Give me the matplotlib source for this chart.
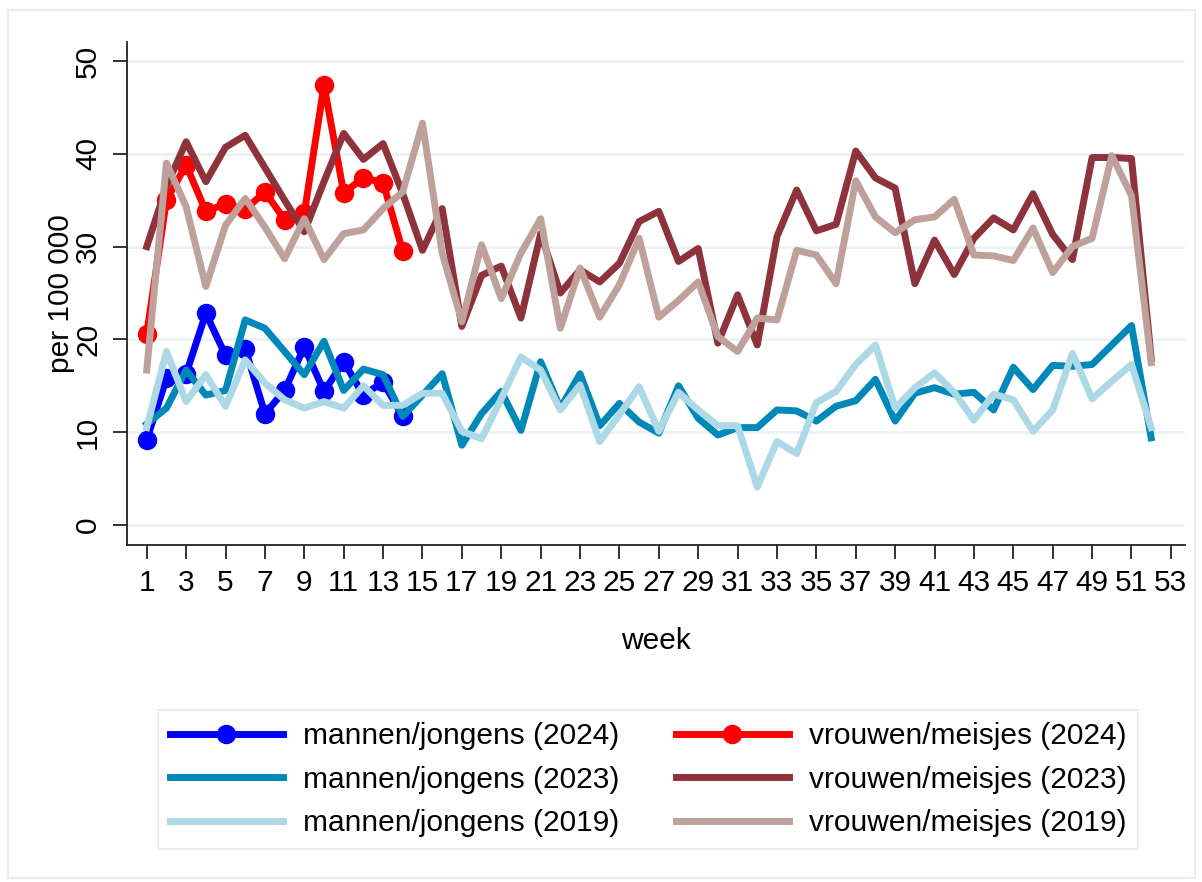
import numpy as np
import matplotlib
matplotlib.use('Agg')
import matplotlib.pyplot as plt
from matplotlib.patches import Rectangle

plt.rcParams['font.family'] = ['Liberation Sans', 'DejaVu Sans']

weeks_24 = np.arange(1, 15)
weeks = np.arange(1, 53)

# mannen/jongens
m_2024 = [9.2, 15.8, 16.3, 22.8, 18.3, 19.0, 12.0, 14.5, 19.2, 14.4, 17.6, 14.0, 15.4, 11.7]
m_2023 = [10.9, 12.6, 16.7, 14.0, 14.5, 22.1, 21.2, 18.7, 16.2, 19.8, 14.5, 16.8, 16.2, 11.7,
          14.0, 16.3, 8.6, 12.0, 14.4, 10.2, 17.6, 12.6, 16.3, 10.7, 13.1, 11.1, 9.9, 15.0,
          11.5, 9.7, 10.5, 10.5, 12.4, 12.3, 11.2, 12.8, 13.4, 15.7, 11.2, 14.2, 14.8, 14.1,
          14.3, 12.4, 17.0, 14.6, 17.2, 17.1, 17.3, 19.4, 21.5, 9.4]
m_2019 = [10.5, 18.7, 13.3, 16.2, 12.8, 17.8, 15.3, 13.5, 12.6, 13.3, 12.6, 15.0, 12.9, 12.9,
          14.2, 14.2, 10.1, 9.3, 13.6, 18.1, 16.7, 12.4, 15.1, 9.0, 11.9, 14.9, 10.1, 14.3,
          12.4, 10.7, 10.7, 4.1, 9.0, 7.7, 13.2, 14.4, 17.3, 19.4, 12.6, 14.8, 16.4, 14.3,
          11.3, 14.1, 13.5, 10.1, 12.4, 18.5, 13.6, 15.5, 17.3, 10.5]

# vrouwen/meisjes
v_2024 = [20.6, 35.0, 38.8, 33.8, 34.6, 34.0, 35.9, 32.9, 33.6, 47.4, 35.8, 37.4, 36.9, 29.5]
v_2023 = [30.0, 36.5, 41.3, 37.0, 40.7, 42.0, 38.5, 35.0, 31.6, 37.0, 42.2, 39.4, 41.1, 35.7,
          29.6, 34.1, 21.4, 26.9, 27.9, 22.3, 31.4, 25.0, 27.5, 26.2, 28.2, 32.7, 33.8, 28.4,
          29.8, 19.6, 24.8, 19.4, 31.1, 36.1, 31.7, 32.4, 40.3, 37.4, 36.3, 26.0, 30.7, 27.0,
          30.9, 33.1, 31.8, 35.7, 31.3, 28.6, 39.6, 39.6, 39.5, 18.0]
v_2019 = [16.7, 39.0, 34.3, 25.7, 32.3, 35.2, 32.1, 28.7, 33.0, 28.6, 31.4, 31.8, 34.1, 35.9,
          43.3, 29.3, 21.9, 30.2, 24.4, 29.3, 33.0, 21.2, 27.7, 22.4, 25.9, 30.9, 22.4, 24.2,
          26.2, 20.3, 18.7, 22.3, 22.1, 29.6, 29.1, 26.0, 37.1, 33.2, 31.5, 32.9, 33.2, 35.1,
          29.1, 29.0, 28.5, 32.0, 27.2, 30.0, 30.9, 39.8, 35.5, 17.5]

fs = 21.5
lw = 5

fig = plt.figure(figsize=(12.02, 8.82), dpi=100)
ax = fig.add_axes([0.1057, 0.3821, 0.8802, 0.5703])

# outer frame
fig.patches.append(Rectangle((0.007, 0.005), 0.987, 0.984, transform=fig.transFigure,
                             fill=False, edgecolor='#e6eef1', linewidth=1.5))

h1, = ax.plot(weeks_24, m_2024, color='#0000ff', lw=lw, marker='o', ms=13, label='mannen/jongens (2024)')
h4, = ax.plot(weeks_24, v_2024, color='#ff0000', lw=lw, marker='o', ms=13, label='vrouwen/meisjes (2024)')
h2, = ax.plot(weeks, m_2023, color='#0089b8', lw=lw, label='mannen/jongens (2023)')
h5, = ax.plot(weeks, v_2023, color='#8e333b', lw=lw, label='vrouwen/meisjes (2023)')
h3, = ax.plot(weeks, m_2019, color='#add8e6', lw=lw, label='mannen/jongens (2019)')
h6, = ax.plot(weeks, v_2019, color='#bfa19b', lw=lw, label='vrouwen/meisjes (2019)')

ax.set_xlim(0, 53.72)
ax.set_ylim(-2.15, 52.05)
ax.set_xticks(np.arange(1, 54, 2))
ax.set_yticks(np.arange(0, 51, 10))
ax.grid(axis='y', color='#eaf2f4', lw=2)
ax.set_axisbelow(True)

for s in ['top', 'right']:
    ax.spines[s].set_visible(False)
for s in ['left', 'bottom']:
    ax.spines[s].set_color('#222222')
    ax.spines[s].set_linewidth(1.3)

ax.tick_params(axis='both', labelsize=fs, length=10, width=1.3, color='#222222', pad=7)
ax.tick_params(axis='y', pad=8)
for lab in ax.get_yticklabels():
    lab.set_rotation(90)
    lab.set_va('center')

ax.set_xlabel('week', fontsize=fs, labelpad=22)
ax.set_ylabel('per 100 000', fontsize=fs, labelpad=-1)

leg = fig.legend(handles=[h1, h2, h3, h4, h5, h6], ncol=2, loc='center',
                 bbox_to_anchor=(0.539, 0.116), fontsize=fs, handlelength=3.8,
                 handletextpad=0.65, columnspacing=1.9, labelspacing=0.52,
                 borderpad=0.4, fancybox=False, frameon=True)
leg.get_frame().set_edgecolor('#e3edf0')
leg.get_frame().set_linewidth(1.5)

fig.savefig('out.png', dpi=100)
